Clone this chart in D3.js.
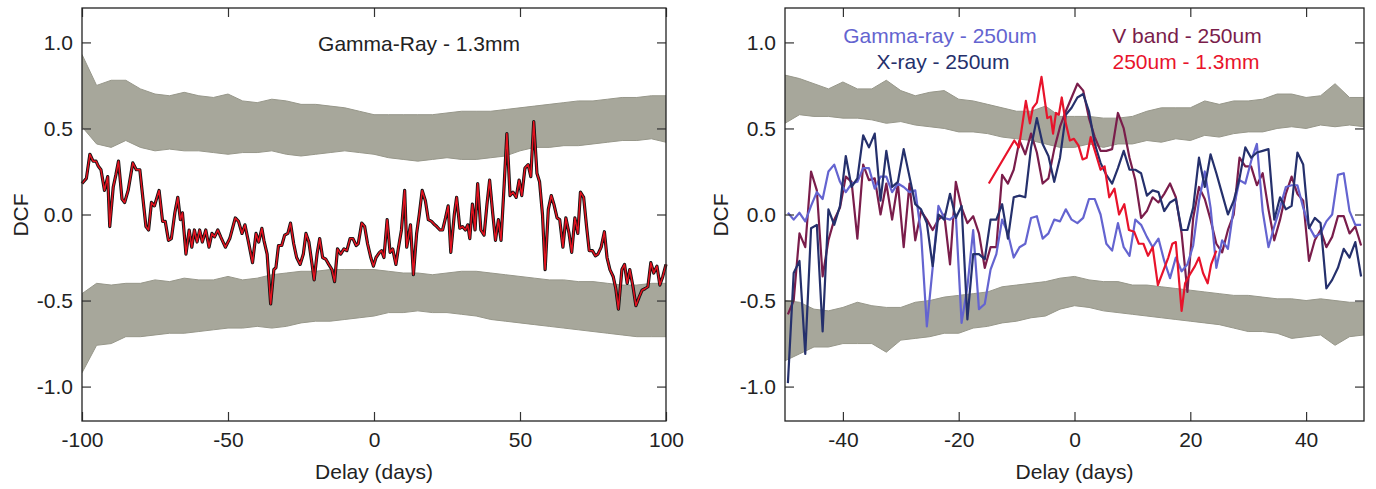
<!DOCTYPE html>
<html><head><meta charset="utf-8">
<script src="https://cdn.jsdelivr.net/npm/d3@7"></script>
<style>
body{margin:0;background:#fff}
svg{display:block}
text{font-family:"Liberation Sans",Arial,Helvetica,sans-serif;fill:#222}
</style>
</head><body>
<svg id="chart" width="1376" height="489"></svg>
<script>
// ---------------- DATA ----------------
const yTickValues = [-1.0, -0.5, 0.0, 0.5, 1.0];
const leftXTicks = [-100, -50, 0, 50, 100];
const rightXTicks = [-40, -20, 0, 20, 40];

// Left panel: Gamma-Ray - 1.3mm DCF  [delay, dcf]
const gammaMmPoints = [
[-100,0.18],[-98.5,0.21],[-97.3,0.35],[-96.2,0.31],[-95.2,0.31],[-94.4,0.28],[-93.5,0.26],[-92.3,0.14],[-91.2,0.22],[-90.5,-0.07],
[-89.3,0.16],[-88.4,0.23],[-87.5,0.31],[-86.3,0.09],[-85.4,0.07],[-84.2,0.14],[-82.6,0.30],[-81.4,0.26],[-80.2,0.26],[-78.1,-0.07],
[-77.2,-0.09],[-76.2,0.07],[-75.2,0.05],[-73.6,0.14],[-72.4,-0.04],[-71.5,-0.04],[-70.4,-0.15],[-69.4,-0.14],[-68.2,0.01],[-67.2,0.10],
[-66.3,-0.03],[-65.6,0.01],[-64.4,-0.23],[-63.3,-0.09],[-62.4,-0.19],[-61.5,-0.09],[-60.6,-0.16],[-59.7,-0.09],[-58.8,-0.16],[-57.6,-0.09],
[-56.5,-0.19],[-55.5,-0.11],[-54.6,-0.13],[-53.5,-0.09],[-52.5,-0.13],[-50.9,-0.19],[-49.4,-0.14],[-47.5,-0.02],[-46.4,-0.04],[-45.2,-0.11],
[-44.2,-0.06],[-43.1,-0.15],[-41.6,-0.28],[-40.4,-0.11],[-39.5,-0.16],[-38.4,-0.08],[-37.7,-0.15],[-36.6,-0.23],[-35.4,-0.52],[-34.3,-0.32],
[-33.6,-0.31],[-32.7,-0.18],[-31.6,-0.18],[-30.6,-0.12],[-29.5,-0.11],[-28.6,-0.05],[-27.5,-0.17],[-26.5,-0.25],[-25.3,-0.29],[-24.2,-0.23],
[-23.3,-0.11],[-22.3,-0.16],[-21.2,-0.29],[-20.5,-0.38],[-19.5,-0.23],[-18.6,-0.14],[-17.6,-0.25],[-16.5,-0.26],[-15.5,-0.29],[-14.4,-0.32],
[-13.5,-0.39],[-12.5,-0.20],[-11.4,-0.23],[-10.3,-0.20],[-9.3,-0.21],[-8.2,-0.14],[-7.2,-0.14],[-6.1,-0.18],[-5.4,-0.17],[-4.2,-0.05],
[-3.2,-0.07],[-2.2,-0.17],[-1.1,-0.25],[-0.2,-0.30],[0.7,-0.25],[1.9,-0.22],[2.6,-0.21],[3.4,-0.25],[4.5,-0.03],[5.5,-0.22],
[6.4,-0.20],[7.5,-0.29],[8.4,-0.19],[9.4,-0.09],[10.5,0.14],[11.2,-0.19],[12.5,-0.06],[13.5,-0.35],[14.6,-0.11],[15.5,0.0],
[16.5,0.14],[17.6,0.08],[18.6,-0.03],[19.7,-0.04],[20.8,-0.06],[21.5,-0.07],[22.6,-0.09],[23.5,-0.09],[24.5,-0.02],[25.4,0.05],
[26.3,-0.22],[27.5,0.0],[28.3,0.10],[29.4,-0.08],[30.3,-0.07],[31.3,-0.09],[32.1,-0.06],[32.8,-0.14],[33.7,0.06],[34.6,-0.09],
[35.5,0.18],[36.6,-0.09],[37.7,-0.12],[38.7,0.06],[39.6,0.20],[40.7,0.0],[41.6,-0.15],[42.6,-0.03],[43.5,-0.15],[44.6,0.18],
[45.5,0.47],[46.6,0.11],[47.6,0.13],[48.7,0.10],[49.7,0.20],[50.6,0.11],[51.7,0.27],[52.8,0.29],[53.7,0.22],[54.7,0.54],
[55.8,0.24],[56.7,0.19],[57.7,0.0],[58.6,-0.32],[59.7,0.03],[60.7,0.11],[61.6,0.06],[62.7,-0.02],[63.6,-0.03],[64.7,-0.19],
[65.7,-0.02],[66.8,-0.11],[67.7,-0.22],[68.8,-0.02],[69.8,-0.11],[70.7,0.13],[71.8,0.10],[72.8,-0.07],[73.7,-0.21],[74.8,-0.21],
[75.8,-0.24],[76.7,-0.23],[77.8,-0.19],[78.9,-0.10],[79.8,-0.25],[80.8,-0.32],[81.9,-0.36],[82.8,-0.43],[83.7,-0.55],[84.9,-0.32],
[85.8,-0.29],[86.7,-0.40],[87.6,-0.32],[88.7,-0.42],[89.7,-0.53],[90.8,-0.48],[91.8,-0.44],[92.9,-0.43],[93.8,-0.42],[94.8,-0.28],
[95.8,-0.34],[96.9,-0.30],[97.9,-0.41],[98.9,-0.36],[100,-0.29]
];

// Left panel simulation envelopes, sampled every 5 days from -100 to 100
const leftBandDelay = d3.range(-100, 101, 5);
const leftUpperTop = [0.93,0.75,0.78,0.78,0.73,0.70,0.69,0.71,0.69,0.68,0.70,0.66,0.65,0.67,0.66,0.64,0.64,0.63,0.62,0.60,0.58,0.58,0.58,0.58,0.58,0.59,0.60,0.60,0.60,0.61,0.62,0.63,0.64,0.65,0.66,0.66,0.67,0.68,0.68,0.69,0.69];
const leftUpperBottom = [0.51,0.41,0.39,0.43,0.39,0.37,0.38,0.37,0.37,0.36,0.35,0.36,0.36,0.37,0.35,0.34,0.35,0.36,0.37,0.36,0.35,0.33,0.32,0.31,0.32,0.33,0.32,0.32,0.33,0.34,0.37,0.39,0.39,0.40,0.40,0.41,0.42,0.43,0.43,0.44,0.42];
const leftLowerTop = [-0.46,-0.40,-0.41,-0.40,-0.40,-0.38,-0.39,-0.37,-0.38,-0.38,-0.36,-0.38,-0.37,-0.35,-0.34,-0.33,-0.33,-0.32,-0.32,-0.32,-0.32,-0.33,-0.34,-0.34,-0.35,-0.34,-0.33,-0.33,-0.34,-0.35,-0.36,-0.37,-0.38,-0.38,-0.39,-0.39,-0.40,-0.41,-0.41,-0.40,-0.40];
const leftLowerBottom = [-0.92,-0.76,-0.75,-0.71,-0.71,-0.70,-0.69,-0.69,-0.68,-0.67,-0.66,-0.66,-0.65,-0.66,-0.65,-0.63,-0.62,-0.62,-0.61,-0.60,-0.59,-0.57,-0.57,-0.56,-0.57,-0.57,-0.58,-0.59,-0.61,-0.62,-0.63,-0.64,-0.65,-0.66,-0.67,-0.68,-0.69,-0.70,-0.71,-0.71,-0.71];

// Right panel DCF curves, one value per day bin from -49.5 to 49.5
const rightDelay = d3.range(-49.5, 50, 1);
const gammaSubmm = [0.01,-0.03,0.01,-0.04,0.05,0.13,0.09,0.25,0.29,0.19,0.13,0.18,0.19,0.27,0.27,0.15,0.22,0.22,0.13,0.18,
0.16,0.13,0.14,-0.11,-0.65,-0.31,0.05,-0.02,-0.03,0.0,-0.63,-0.42,-0.09,-0.55,-0.52,-0.32,-0.23,-0.03,-0.11,-0.25,
-0.19,-0.17,-0.02,-0.01,-0.14,-0.11,-0.03,-0.04,0.03,-0.03,-0.05,-0.02,0.09,0.09,0.0,-0.17,-0.21,-0.05,-0.19,-0.24,
-0.03,-0.06,-0.13,-0.19,-0.14,-0.27,-0.37,-0.25,-0.33,-0.29,-0.18,0.08,0.25,0.04,-0.31,-0.15,-0.20,0.04,0.20,0.18,
0.31,0.41,0.02,-0.19,-0.07,0.04,0.16,0.17,0.17,0.04,-0.07,-0.13,-0.11,-0.04,0.0,0.23,0.24,0.02,-0.06,-0.06];
const xraySubmm = [-0.98,-0.34,-0.27,-0.81,-0.08,-0.06,-0.68,0.03,-0.06,0.05,0.34,0.16,0.21,0.46,0.39,0.47,0.08,0.37,0.16,0.19,
0.38,0.22,0.06,0.03,-0.05,-0.30,0.0,-0.03,0.12,-0.02,0.05,-0.61,-0.23,-0.23,-0.26,-0.03,-0.03,0.06,-0.14,0.10,
0.11,0.10,0.39,0.56,0.41,0.34,0.19,0.33,0.58,0.62,0.68,0.70,0.60,0.41,0.30,0.23,0.18,0.27,0.37,0.26,
0.26,0.24,0.11,0.14,0.13,0.02,0.07,0.09,-0.09,-0.09,0.04,0.33,0.16,0.35,0.24,0.12,0.0,0.08,0.21,0.39,
0.33,0.36,0.37,0.38,-0.03,0.10,0.03,0.05,0.36,0.29,-0.08,-0.02,-0.05,-0.43,-0.38,-0.31,-0.20,-0.25,-0.16,-0.36];
const vbandSubmm = [-0.58,-0.50,-0.11,-0.19,0.25,0.14,-0.36,-0.15,-0.03,0.04,0.22,0.19,-0.14,0.29,0.20,0.21,0.0,0.18,-0.03,0.18,
-0.19,0.18,-0.15,0.02,-0.03,-0.09,-0.03,0.0,-0.29,0.19,0.04,-0.05,-0.01,-0.11,-0.31,-0.19,-0.19,0.23,0.18,0.26,
0.43,0.35,0.47,0.36,0.18,0.21,0.38,0.51,0.60,0.68,0.76,0.72,0.56,0.45,0.37,0.37,0.38,0.59,0.50,0.33,
0.20,-0.02,0.02,0.10,0.07,0.12,0.18,0.10,-0.11,-0.45,-0.02,0.16,0.09,-0.03,-0.17,-0.22,-0.09,0.0,0.33,0.28,
0.28,0.17,0.24,0.03,-0.15,-0.03,0.12,0.22,0.12,0.08,-0.27,-0.15,-0.09,-0.19,-0.13,-0.01,-0.01,-0.11,-0.07,-0.18];
const submmMmDelay = [-14.8,-10.4,-9.6,-8.4,-7.7,-7.2,-6.5,-5.7,-4.7,-4.1,-3.7,-3.2,-2.7,-2.2,-1.5,-0.8,-0.1,0.7,1.4,2.1,
2.8,3.7,4.5,5.2,6.0,6.9,7.7,8.6,9.4,10.3,11.1,11.9,12.7,13.5,14.4,15.3,16.2,16.9,17.5,18.5,
19.1,19.9,20.8,21.5,22.2,23.0,23.6,24.5];
const submmMmDCF = [0.18,0.43,0.39,0.66,0.53,0.62,0.65,0.80,0.56,0.57,0.47,0.59,0.58,0.68,0.53,0.43,0.44,0.40,0.32,0.33,
0.45,0.35,0.26,0.28,0.10,0.15,0.0,0.06,-0.09,-0.10,-0.17,-0.17,-0.24,-0.19,-0.41,-0.33,-0.25,-0.17,-0.16,-0.56,
-0.40,-0.35,-0.30,-0.25,-0.34,-0.40,-0.29,-0.21];

// Right panel simulation envelopes, sampled every 2.5 days from -50 to 50
const rightBandDelay = d3.range(-50, 50.1, 2.5);
const rightUpperTop = [0.81,0.79,0.76,0.73,0.77,0.73,0.73,0.78,0.72,0.69,0.71,0.72,0.67,0.66,0.64,0.62,0.60,0.60,0.63,0.57,0.57,0.57,0.56,0.56,0.57,0.60,0.62,0.62,0.62,0.66,0.64,0.66,0.66,0.67,0.70,0.70,0.68,0.69,0.76,0.68,0.68];
const rightUpperBottom = [0.53,0.58,0.57,0.57,0.56,0.56,0.55,0.53,0.54,0.52,0.51,0.50,0.48,0.48,0.47,0.45,0.44,0.43,0.41,0.39,0.39,0.41,0.39,0.41,0.41,0.43,0.42,0.44,0.43,0.46,0.45,0.47,0.48,0.48,0.50,0.51,0.50,0.52,0.51,0.52,0.51];
const rightLowerTop = [-0.50,-0.51,-0.55,-0.56,-0.54,-0.51,-0.53,-0.54,-0.54,-0.51,-0.50,-0.48,-0.47,-0.46,-0.45,-0.42,-0.41,-0.40,-0.39,-0.37,-0.36,-0.38,-0.39,-0.39,-0.41,-0.41,-0.42,-0.43,-0.44,-0.45,-0.46,-0.47,-0.47,-0.48,-0.49,-0.49,-0.50,-0.49,-0.50,-0.51,-0.51];
const rightLowerBottom = [-0.85,-0.81,-0.77,-0.77,-0.75,-0.75,-0.75,-0.80,-0.73,-0.72,-0.71,-0.69,-0.69,-0.66,-0.65,-0.63,-0.62,-0.60,-0.59,-0.55,-0.53,-0.54,-0.56,-0.57,-0.58,-0.59,-0.60,-0.61,-0.62,-0.63,-0.64,-0.66,-0.68,-0.68,-0.69,-0.72,-0.71,-0.70,-0.76,-0.71,-0.70];

const leftTitle = "Gamma-Ray - 1.3mm";
const rightLegend = [
  {label: "Gamma-ray - 250um", key: "gamma"},
  {label: "X-ray - 250um", key: "xray"},
  {label: "V band - 250um", key: "vband"},
  {label: "250um - 1.3mm", key: "submm"}
];

// ---------------- STYLE ----------------
const FONT = 21;
const colors = {gamma: "#6464d0", xray: "#25306c", vband: "#7a1d4b", submm: "#e8132b", band: "#9d9d90", bandEdge: "#97978a"};

const svg = d3.select("#chart");
const yTop = 8, yBot = 421;

function bandArea(g, x, y, delays, top, bottom, clipId) {
  const data = delays.map((d, i) => ({d, t: top[i], b: bottom[i]}));
  const area = d3.area().x(p => x(p.d)).y0(p => y(p.b)).y1(p => y(p.t));
  g.append("path").datum(data).attr("d", area)
    .attr("fill", colors.band).attr("fill-opacity", 0.9).attr("clip-path", `url(#${clipId})`);
  const lt = d3.line().x(p => x(p.d)).y(p => y(p.t));
  const lb = d3.line().x(p => x(p.d)).y(p => y(p.b));
  g.append("path").datum(data).attr("d", lt).attr("fill", "none").attr("stroke", colors.bandEdge).attr("stroke-width", 1).attr("clip-path", `url(#${clipId})`);
  g.append("path").datum(data).attr("d", lb).attr("fill", "none").attr("stroke", colors.bandEdge).attr("stroke-width", 1).attr("clip-path", `url(#${clipId})`);
}

function frame(g, x, y, xTicks, x0, x1, ylabX, xlabX) {
  const fmtY = d => d.toFixed(1);
  g.append("g").attr("transform", `translate(${x0},0)`)
    .call(d3.axisLeft(y).tickValues(yTickValues).tickSize(-9).tickPadding(9).tickFormat(fmtY));
  g.append("g").attr("transform", `translate(${x1},0)`)
    .call(d3.axisRight(y).tickValues(yTickValues).tickSize(-9).tickFormat(""));
  g.append("g").attr("transform", `translate(0,${yBot})`)
    .call(d3.axisBottom(x).tickValues(xTicks).tickSize(-9).tickPadding(11).tickFormat(d => String(d)));
  g.append("g").attr("transform", `translate(0,${yTop})`)
    .call(d3.axisTop(x).tickValues(xTicks).tickSize(-9).tickFormat(""));
  g.selectAll(".domain").remove();
  g.selectAll(".tick line").attr("stroke", "#333").attr("stroke-width", 1.2);
  g.selectAll(".tick text").attr("font-size", FONT).attr("font-family", '"Liberation Sans",Arial,sans-serif').attr("fill", "#222");
  g.append("rect").attr("x", x0).attr("y", yTop).attr("width", x1 - x0).attr("height", yBot - yTop)
    .attr("fill", "none").attr("stroke", "#222").attr("stroke-width", 1.3);
  g.append("text").attr("transform", `translate(${ylabX},215) rotate(-90)`)
    .attr("text-anchor", "middle").attr("font-size", FONT).text("DCF");
  g.append("text").attr("x", xlabX).attr("y", 479).attr("text-anchor", "middle").attr("font-size", FONT).text("Delay (days)");
}

// ---------------- LEFT PANEL ----------------
{
  const x0 = 82, x1 = 666;
  const x = d3.scaleLinear().domain([-100, 100]).range([x0, x1]);
  const y = d3.scaleLinear().domain([-1.2, 1.2]).range([yBot, yTop]);
  const g = svg.append("g");
  g.append("clipPath").attr("id", "clipL").append("rect").attr("x", x0).attr("y", yTop).attr("width", x1 - x0).attr("height", yBot - yTop);
  bandArea(g, x, y, leftBandDelay, leftUpperTop, leftUpperBottom, "clipL");
  bandArea(g, x, y, leftBandDelay, leftLowerTop, leftLowerBottom, "clipL");
  const line = d3.line().x(p => x(p[0])).y(p => y(p[1]));
  g.append("path").datum(gammaMmPoints).attr("d", line).attr("fill", "none").attr("stroke", "#111").attr("stroke-width", 3.2).attr("stroke-linejoin", "round");
  g.append("path").datum(gammaMmPoints).attr("d", line).attr("fill", "none").attr("stroke", "#e3121f").attr("stroke-width", 1.5).attr("stroke-linejoin", "round");
  frame(g, x, y, leftXTicks, x0, x1, 28, x(0));
  g.append("text").attr("x", 419).attr("y", 51).attr("text-anchor", "middle").attr("font-size", FONT).attr("fill", "#222").text(leftTitle);
}

// ---------------- RIGHT PANEL ----------------
{
  const x0 = 785, x1 = 1364;
  const x = d3.scaleLinear().domain([-50, 50]).range([x0, x1]);
  const y = d3.scaleLinear().domain([-1.2, 1.2]).range([yBot, yTop]);
  const g = svg.append("g");
  g.append("clipPath").attr("id", "clipR").append("rect").attr("x", x0).attr("y", yTop).attr("width", x1 - x0).attr("height", yBot - yTop);
  bandArea(g, x, y, rightBandDelay, rightUpperTop, rightUpperBottom, "clipR");
  bandArea(g, x, y, rightBandDelay, rightLowerTop, rightLowerBottom, "clipR");
  const line = d3.line().x(p => x(p[0])).y(p => y(p[1]));
  const series = [
    {key: "vband", pts: rightDelay.map((d, i) => [d, vbandSubmm[i]])},
    {key: "gamma", pts: rightDelay.map((d, i) => [d, gammaSubmm[i]])},
    {key: "xray", pts: rightDelay.map((d, i) => [d, xraySubmm[i]])},
    {key: "submm", pts: submmMmDelay.map((d, i) => [d, submmMmDCF[i]])}
  ];
  series.forEach(s => {
    g.append("path").datum(s.pts).attr("d", line).attr("fill", "none")
      .attr("stroke", colors[s.key]).attr("stroke-width", 2.2).attr("stroke-linejoin", "round")
      .attr("clip-path", "url(#clipR)");
  });
  frame(g, x, y, rightXTicks, x0, x1, 728, x(0));
  const legendPos = {gamma: [940, 43], xray: [943, 69], vband: [1187, 43], submm: [1186, 69]};
  rightLegend.forEach(l => {
    g.append("text").attr("x", legendPos[l.key][0]).attr("y", legendPos[l.key][1])
      .attr("text-anchor", "middle").attr("font-size", FONT).style("fill", colors[l.key]).text(l.label);
  });
}
</script>
</body></html>
